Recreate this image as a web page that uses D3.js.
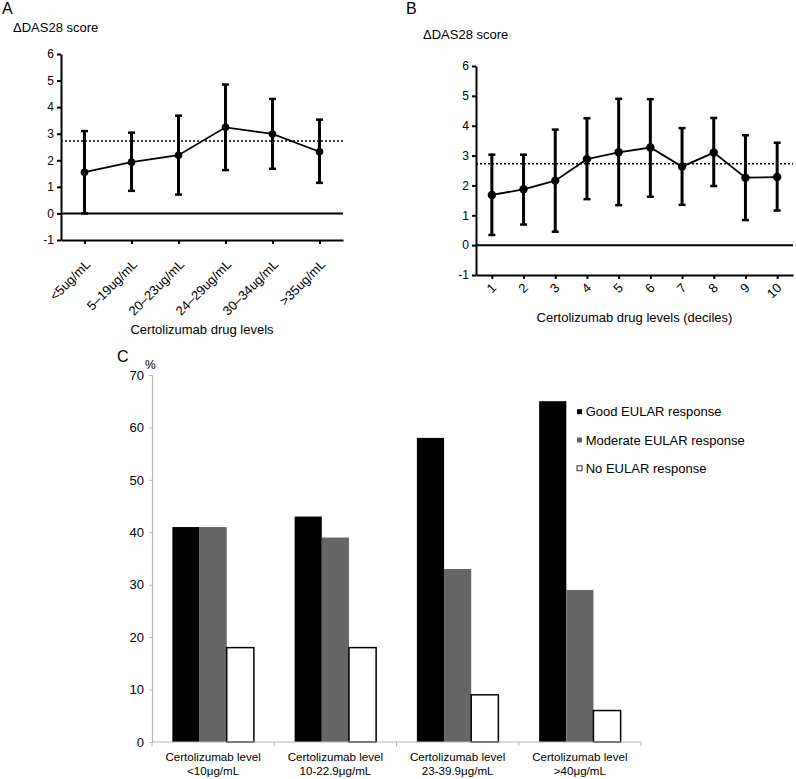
<!DOCTYPE html>
<html>
<head>
<meta charset="utf-8">
<script src="https://cdn.jsdelivr.net/npm/d3@7"></script>
<style>
  html, body { margin: 0; padding: 0; background: #fff; }
  svg { display: block; font-family: "Liberation Sans", Arial, Helvetica, sans-serif; }
</style>
</head>
<body>
<svg id="chart" width="796" height="779"></svg>
<script>
// ---------- DATA ----------
const aCategories = ["<5ug/mL", "5–19ug/mL", "20–23ug/mL", "24–29ug/mL", "30–34ug/mL", ">35ug/mL"];
const aMean  = [1.55, 1.93, 2.19, 3.24, 2.99, 2.32];
const aUpper = [3.10, 3.04, 3.68, 4.85, 4.31, 3.53];
const aLower = [0.00, 0.85, 0.71, 1.63, 1.68, 1.15];

const bCategories = ["1", "2", "3", "4", "5", "6", "7", "8", "9", "10"];
const bMean  = [1.68, 1.87, 2.16, 2.88, 3.11, 3.27, 2.63, 3.10, 2.26, 2.28];
const bUpper = [3.03, 3.03, 3.87, 4.25, 4.90, 4.89, 3.92, 4.26, 3.68, 3.43];
const bLower = [0.34, 0.69, 0.45, 1.54, 1.34, 1.62, 1.35, 1.98, 0.84, 1.16];

const referenceLine = 2.73;
const dasTicks = [-1, 0, 1, 2, 3, 4, 5, 6];

const cCategories = [
  ["Certolizumab level", "<10μg/mL"],
  ["Certolizumab level", "10-22.9μg/mL"],
  ["Certolizumab level", "23-39.9μg/mL"],
  ["Certolizumab level", ">40μg/mL"]
];
const cSeries = ["Good EULAR response", "Moderate EULAR response", "No EULAR response"];
const cGood     = [41, 43, 58, 65];
const cModerate = [41, 39, 33, 29];
const cNone     = [18, 18, 9, 6];
const cTicks = [0, 10, 20, 30, 40, 50, 60, 70];

// ---------- DRAW ----------
const svg = d3.select("#chart");
const FONT = "Liberation Sans, Arial, sans-serif";

function linePanel(opts) {
  const g = svg.append("g");
  const x = d3.scalePoint().domain(opts.cats).range(opts.xRange).padding(0.5);
  const y = d3.scaleLinear().domain([-1, 6]).range(opts.yRange);

  // panel letter & y title
  g.append("text").attr("x", opts.letterPos[0]).attr("y", opts.letterPos[1])
    .attr("font-size", 16).text(opts.letter);
  g.append("text").attr("x", opts.titlePos[0]).attr("y", opts.titlePos[1])
    .attr("font-size", 13).text("ΔDAS28 score");

  // y axis
  const ya = g.append("g").attr("transform", `translate(${opts.xRange[0]},0)`)
    .call(d3.axisLeft(y).tickValues(dasTicks).tickFormat(d => String(d))
      .tickSize(4).tickSizeOuter(0).tickPadding(3));
  ya.select(".domain").attr("stroke-width", 2);
  ya.selectAll(".tick line").attr("stroke-width", 2);
  ya.selectAll(".tick text").attr("font-size", 12).attr("font-family", FONT);

  // x axis
  const xa = g.append("g").attr("transform", `translate(0,${opts.yRange[0]})`)
    .call(d3.axisBottom(x).tickSize(4).tickSizeOuter(0));
  xa.select(".domain").attr("stroke-width", 2);
  xa.selectAll(".tick line").attr("stroke-width", 2);
  xa.selectAll(".tick text")
    .attr("font-size", opts.xFont).attr("font-family", FONT)
    .attr("x", 0).attr("y", 0).attr("dy", "0.35em")
    .attr("text-anchor", "end")
    .attr("transform", `translate(${opts.labelOff[0]},${opts.labelOff[1]}) rotate(-45)`);

  // x title
  g.append("text").attr("x", (opts.xRange[0] + opts.xRange[1]) / 2).attr("y", opts.xTitleY)
    .attr("text-anchor", "middle").attr("font-size", 13).text(opts.xTitle);

  // zero line
  g.append("line").attr("x1", opts.xRange[0]).attr("x2", opts.xRange[1])
    .attr("y1", y(0)).attr("y2", y(0)).attr("stroke", "#000").attr("stroke-width", 2);
  // reference dotted line
  g.append("line").attr("x1", opts.xRange[0]).attr("x2", opts.xRange[1])
    .attr("y1", y(referenceLine)).attr("y2", y(referenceLine))
    .attr("stroke", "#000").attr("stroke-width", 1.5).attr("stroke-dasharray", "2,2");

  const data = opts.cats.map((c, i) => ({ c, m: opts.mean[i], u: opts.upper[i], l: opts.lower[i] }));

  // error bars
  const eb = g.append("g").selectAll("g").data(data).join("g");
  eb.append("line").attr("x1", d => x(d.c)).attr("x2", d => x(d.c))
    .attr("y1", d => y(d.u)).attr("y2", d => y(d.l)).attr("stroke", "#000").attr("stroke-width", 3);
  eb.append("line").attr("x1", d => x(d.c) - 3.5).attr("x2", d => x(d.c) + 3.5)
    .attr("y1", d => y(d.u)).attr("y2", d => y(d.u)).attr("stroke", "#000").attr("stroke-width", 2.5);
  eb.append("line").attr("x1", d => x(d.c) - 3.5).attr("x2", d => x(d.c) + 3.5)
    .attr("y1", d => y(d.l)).attr("y2", d => y(d.l)).attr("stroke", "#000").attr("stroke-width", 2.5);

  // mean line
  g.append("path").datum(data)
    .attr("d", d3.line().x(d => x(d.c)).y(d => y(d.m)))
    .attr("fill", "none").attr("stroke", "#000").attr("stroke-width", 1.8);
  g.append("g").selectAll("circle").data(data).join("circle")
    .attr("cx", d => x(d.c)).attr("cy", d => y(d.m)).attr("r", opts.r).attr("fill", "#000");
}

linePanel({
  letter: "A", letterPos: [2, 14], titlePos: [13, 32],
  cats: aCategories, mean: aMean, upper: aUpper, lower: aLower,
  xRange: [61, 343], yRange: [240, 54],
  xFont: 13, labelOff: [3, 22],
  xTitle: "Certolizumab drug levels", xTitleY: 334, r: 3.8
});

linePanel({
  letter: "B", letterPos: [406, 14], titlePos: [423, 39],
  cats: bCategories, mean: bMean, upper: bUpper, lower: bLower,
  xRange: [476, 793], yRange: [275, 66],
  xFont: 13, labelOff: [1.5, 10.5],
  xTitle: "Certolizumab drug levels (deciles)", xTitleY: 322, r: 4.2
});

// ---------- PANEL C ----------
(function () {
  const g = svg.append("g");
  const catKeys = cCategories.map(d => d.join(" "));
  const x0 = d3.scaleBand().domain(catKeys).range([152, 641]).padding(0);
  const x1 = d3.scaleBand().domain(cSeries).range([0, x0.bandwidth()]).paddingInner(0).paddingOuter(0.75);
  const y = d3.scaleLinear().domain([0, 70]).range([742, 375]);
  const fills = ["#000000", "#666666", "#ffffff"];
  const values = [cGood, cModerate, cNone];

  g.append("text").attr("x", 117).attr("y", 362).attr("font-size", 16).text("C");
  g.append("text").attr("x", 145).attr("y", 369).attr("font-size", 12).text("%");

  // y axis
  const ya = g.append("g").attr("transform", "translate(152,0)")
    .call(d3.axisLeft(y).tickValues(cTicks).tickSize(3).tickSizeOuter(0).tickPadding(5));
  ya.select(".domain").attr("stroke", "#b5b5b5").attr("stroke-width", 1.2);
  ya.selectAll(".tick line").attr("stroke", "#b5b5b5");
  ya.selectAll(".tick text").attr("font-size", 13).attr("font-family", FONT);

  // bars
  const groups = g.append("g").selectAll("g").data(catKeys).join("g")
    .attr("transform", d => `translate(${x0(d)},0)`);
  groups.selectAll("rect")
    .data((d, i) => cSeries.map((s, j) => ({ s, j, v: values[j][i] })))
    .join("rect")
    .attr("x", d => x1(d.s)).attr("width", x1.bandwidth())
    .attr("y", d => y(d.v)).attr("height", d => y(0) - y(d.v))
    .attr("fill", d => fills[d.j])
    .attr("stroke", d => d.j === 2 ? "#000" : "none")
    .attr("stroke-width", 1.5);

  // x axis line with separators
  g.append("line").attr("x1", 152).attr("x2", 641).attr("y1", y(0)).attr("y2", y(0))
    .attr("stroke", "#b5b5b5").attr("stroke-width", 1.2);
  const bounds = catKeys.map(k => x0(k)).concat([x0(catKeys[catKeys.length - 1]) + x0.bandwidth()]);
  g.append("g").selectAll("line").data(bounds).join("line")
    .attr("x1", d => d).attr("x2", d => d).attr("y1", y(0)).attr("y2", y(0) + 4)
    .attr("stroke", "#b5b5b5").attr("stroke-width", 1);

  // category labels
  const lab = g.append("g").selectAll("text").data(cCategories).join("text")
    .attr("text-anchor", "middle").attr("font-size", 11.6)
    .attr("transform", (d, i) => `translate(${x0(catKeys[i]) + x0.bandwidth() / 2},761)`);
  lab.append("tspan").attr("x", 0).attr("y", 0).text(d => d[0]);
  lab.append("tspan").attr("x", 0).attr("y", 14).text(d => d[1]);

  // legend
  const leg = g.append("g").selectAll("g").data(cSeries).join("g")
    .attr("transform", (d, i) => `translate(577,${411.7 + i * 28.3})`);
  leg.append("rect").attr("x", 0).attr("y", -2.5).attr("width", 5).attr("height", 5)
    .attr("fill", (d, i) => fills[i]).attr("stroke", (d, i) => i === 2 ? "#000" : "none").attr("stroke-width", 0.8);
  leg.append("text").attr("x", 8.7).attr("y", 0).attr("dy", "0.35em").attr("font-size", 13).text(d => d);
})();
</script>
</body>
</html>
